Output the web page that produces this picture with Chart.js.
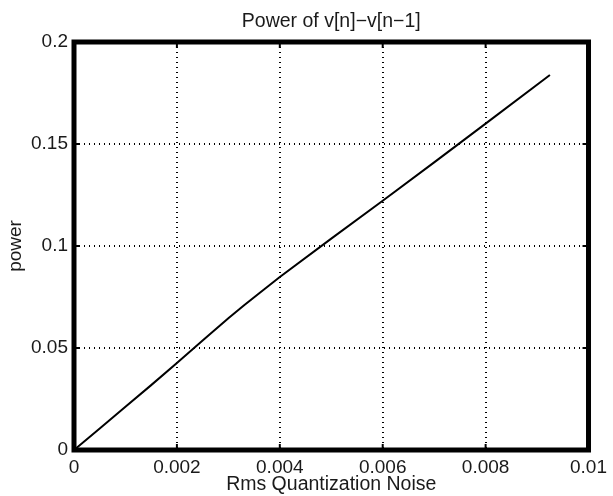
<!DOCTYPE html>
<html><head><meta charset="utf-8">
<script src="https://cdn.jsdelivr.net/npm/chart.js@4"></script>
<style>html,body{margin:0;padding:0;background:#fff}#wrap{width:613px;height:496px}</style>
</head><body><div id="wrap"><canvas id="c" width="613" height="496"></canvas></div>
<script>
const chartTitle = 'Power of v[n]\u2212v[n\u22121]';
const xTitle = 'Rms Quantization Noise';
const yTitle = 'power';
const noiseRms = [0, 0.0005, 0.001, 0.0015, 0.002, 0.0025, 0.003, 0.0033, 0.0036, 0.004, 0.005, 0.006, 0.007, 0.008, 0.00925];
const powerVals = [0, 0.0105, 0.0212, 0.0318, 0.0427, 0.0537, 0.0646, 0.0708, 0.0768, 0.0848, 0.1036, 0.1222, 0.1410, 0.1600, 0.1838];
const xTickLabels = ['0', '0.002', '0.004', '0.006', '0.008', '0.01'];
const yTickLabels = ['0', '0.05', '0.1', '0.15', '0.2'];

const FONT = 'Liberation Sans, Arial, Helvetica, sans-serif';
const TEXT = '#1a1a1a';

const framePlugin = {
  id: 'frame',
  afterDraw(chart) {
    const ctx = chart.ctx, a = chart.chartArea;
    const xs = chart.scales.x, ys = chart.scales.y;
    ctx.save();
    ctx.strokeStyle = '#000';
    ctx.lineWidth = 5;
    ctx.strokeRect(a.left, a.top, a.right - a.left, a.bottom - a.top);
    ctx.lineWidth = 2;
    xs.ticks.forEach(t => {
      const px = xs.getPixelForValue(t.value);
      ctx.beginPath(); ctx.moveTo(px, a.bottom); ctx.lineTo(px, a.bottom - 6); ctx.stroke();
      ctx.beginPath(); ctx.moveTo(px, a.top); ctx.lineTo(px, a.top + 6); ctx.stroke();
    });
    ys.ticks.forEach(t => {
      const py = ys.getPixelForValue(t.value);
      ctx.beginPath(); ctx.moveTo(a.left, py); ctx.lineTo(a.left + 6, py); ctx.stroke();
      ctx.beginPath(); ctx.moveTo(a.right, py); ctx.lineTo(a.right - 6, py); ctx.stroke();
    });
    ctx.fillStyle = TEXT;
    ctx.font = '19.5px ' + FONT;
    ctx.textAlign = 'center';
    ctx.textBaseline = 'alphabetic';
    ctx.fillText(chartTitle, (a.left + a.right) / 2, 27);
    ctx.restore();
  }
};

new Chart(document.getElementById('c'), {
  type: 'line',
  data: {
    datasets: [{
      data: noiseRms.map((x, i) => ({ x: x, y: powerVals[i] })),
      borderColor: '#000',
      borderWidth: 2,
      pointRadius: 0,
      fill: false,
      tension: 0
    }]
  },
  options: {
    responsive: false,
    animation: false,
    devicePixelRatio: 1,
    layout: { padding: { left: 0, right: 20, top: 42, bottom: 0 } },
    plugins: { legend: { display: false }, tooltip: { enabled: false }, title: { display: false } },
    scales: {
      x: {
        type: 'linear', min: 0, max: 0.01,
        afterFit(s) { s.height = 46; },
        ticks: {
          stepSize: 0.002, autoSkip: false, maxRotation: 0, padding: 6,
          color: TEXT, font: { family: FONT, size: 19 },
          callback: (v, i) => xTickLabels[i]
        },
        grid: { color: '#000', lineWidth: 2, drawTicks: false },
        border: { display: false, dash: [1, 4] },
        title: { display: true, text: xTitle, color: TEXT, font: { family: FONT, size: 19.5 }, padding: { top: 0, bottom: 0 } }
      },
      y: {
        type: 'linear', min: 0, max: 0.2,
        afterFit(s) { s.width = 74; },
        ticks: {
          stepSize: 0.05, autoSkip: false, padding: 6,
          color: TEXT, font: { family: FONT, size: 19 },
          callback: (v, i) => yTickLabels[i]
        },
        grid: { color: '#000', lineWidth: 2, drawTicks: false },
        border: { display: false, dash: [1, 4] },
        title: { display: true, text: yTitle, color: TEXT, font: { family: FONT, size: 19 }, padding: { top: 4, bottom: 0 } }
      }
    }
  },
  plugins: [framePlugin]
});
</script>
</body></html>
